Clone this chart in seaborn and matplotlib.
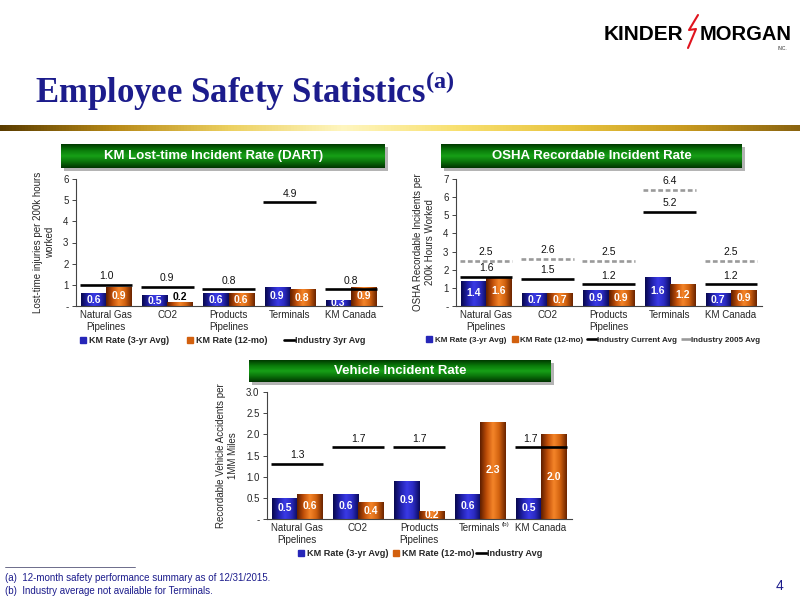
import numpy as np
import pandas as pd
import matplotlib
matplotlib.use("Agg")
import matplotlib.pyplot as plt
from matplotlib.colors import LinearSegmentedColormap
from matplotlib.lines import Line2D
import seaborn as sns

# values
categories = ['Natural Gas\nPipelines', 'CO2', 'Products\nPipelines', 'Terminals', 'KM Canada']
series_names = ['KM Rate (3-yr Avg)', 'KM Rate (12-mo)']

dart_3yr = [0.6, 0.5, 0.6, 0.9, 0.3]
dart_12mo = [0.9, 0.2, 0.6, 0.8, 0.9]
dart_industry = [1.0, 0.9, 0.8, 4.9, 0.8]

osha_3yr = [1.4, 0.7, 0.9, 1.6, 0.7]
osha_12mo = [1.6, 0.7, 0.9, 1.2, 0.9]
osha_industry = [1.6, 1.5, 1.2, 5.2, 1.2]
osha_industry_2005 = [2.5, 2.6, 2.5, 6.4, 2.5]

veh_3yr = [0.5, 0.6, 0.9, 0.6, 0.5]
veh_12mo = [0.6, 0.4, 0.2, 2.3, 2.0]
veh_industry = [1.3, 1.7, 1.7, None, 1.7]  # no industry avg for Terminals

BLUE = '#2626b8'
ORANGE = '#d2600e'
NAVY = '#1c1c8c'
blue_cmap = LinearSegmentedColormap.from_list('b', ['#08084e', '#2020a8', '#3a3ae6', '#2a2ac0', '#0a0a5a'])
orange_cmap = LinearSegmentedColormap.from_list('o', ['#5e1e00', '#c04e08', '#f5862a', '#d0600e', '#6a2400'])
green_cmap = LinearSegmentedColormap.from_list('g', ['#003a00', '#0a7a0a', '#17a017', '#0a700a', '#003400'])
gold_cmap = LinearSegmentedColormap.from_list('y', ['#5a3c00', '#b88a18', '#ecd060', '#fff6c0',
                                                    '#f8e070', '#e8c440', '#c89a20', '#8a6410'])

sns.set_theme(style='white')
plt.rcParams['font.family'] = ['Liberation Sans', 'DejaVu Sans']

fig = plt.figure(figsize=(8, 6), dpi=100)
W, H = 800.0, 600.0


def px_axes(x0, y0, x1, y1):
    # axes from pixel box (top-left origin)
    return fig.add_axes([x0 / W, 1 - y1 / H, (x1 - x0) / W, (y1 - y0) / H])


def header(x0, y0, x1, y1, text, tx=0.5):
    sh = px_axes(x0 + 3, y0 + 3, x1 + 3, y1 + 3)
    sh.set_facecolor('#b4b4b4')
    sh.set_xticks([])
    sh.set_yticks([])
    for s in sh.spines.values():
        s.set_visible(False)
    hx = px_axes(x0, y0, x1, y1)
    grad = np.linspace(0, 1, 64).reshape(-1, 1)
    hx.imshow(grad, cmap=green_cmap, aspect='auto', extent=(0, 1, 0, 1))
    hx.text(tx, 0.5, text, color='white', fontsize=9.5, fontweight='bold', ha='center', va='center')
    hx.axis('off')


def shade_bars(ax, container, cmap):
    grad = np.linspace(0, 1, 64).reshape(1, -1)
    for bar in container:
        x0, y0 = bar.get_x(), bar.get_y()
        im = ax.imshow(grad, cmap=cmap, aspect='auto', interpolation='bicubic',
                       extent=(x0, x0 + bar.get_width(), y0, y0 + bar.get_height()), zorder=2.5)
        im.set_clip_path(bar)


def industry(ax, vals, color='black', ls='-', shift=None):
    shift = shift or {}
    for i, v in enumerate(vals):
        if v is None:
            continue
        ax.hlines(v, i - 0.43, i + 0.43, color=color, lw=1.9, linestyles=ls, zorder=4)
        ax.annotate(f'{v:.1f}', (i, v), xytext=(shift.get(i, 0), 2.5), textcoords='offset points',
                    ha='center', va='bottom', fontsize=7.5, color='#111111', zorder=5)


def panel(ax, v3, v12, ymax, yticks, yticklabels, ylabel):
    df = pd.DataFrame({'segment': categories * 2,
                       'rate': v3 + v12,
                       'series': [series_names[0]] * 5 + [series_names[1]] * 5})
    sns.barplot(data=df, x='segment', y='rate', hue='series', order=categories,
                hue_order=series_names, palette=[BLUE, ORANGE], width=0.82, saturation=1,
                errorbar=None, legend=False, ax=ax, zorder=2)
    for cont, cmap, vals in zip(ax.containers, [blue_cmap, orange_cmap], [v3, v12]):
        shade_bars(ax, cont, cmap)
        for bar, v in zip(cont, vals):
            xc = bar.get_x() + bar.get_width() / 2
            if v / ymax < 0.04:
                ax.text(xc, v, f'{v:.1f}', ha='center', va='bottom', fontsize=7.5,
                        fontweight='bold', color='black', zorder=5)
            else:
                ax.text(xc, v / 2, f'{v:.1f}', ha='center', va='center', fontsize=7.5,
                        fontweight='bold', color='white', zorder=5)
    ax.set_xlim(-0.5, 4.5)
    ax.set_ylim(0, ymax)
    ax.set_yticks(yticks)
    ax.set_yticklabels(yticklabels, fontsize=7)
    ax.set_xticks(range(5))
    ax.set_xticklabels(categories, fontsize=7)
    ax.set_xticks(np.arange(-0.5, 5, 1), minor=True)
    ax.tick_params(axis='x', which='major', length=0, pad=3)
    ax.tick_params(axis='x', which='minor', length=3, width=0.7, direction='out', color='#444444')
    ax.tick_params(axis='y', length=3, width=0.7, direction='out', color='#444444', pad=2, left=True)
    ax.set_xlabel('')
    ax.set_ylabel(ylabel, fontsize=7, labelpad=6)
    sns.despine(ax=ax)
    for s in ('left', 'bottom'):
        ax.spines[s].set_color('#444444')
        ax.spines[s].set_linewidth(0.8)
    ax.set_facecolor('white')


def legend(ax, extra, size, colsp, x=0.5, y=-0.27):
    handles = [Line2D([], [], marker='s', ls='none', ms=4.5, mfc=BLUE, mec=BLUE),
               Line2D([], [], marker='s', ls='none', ms=4.5, mfc=ORANGE, mec=ORANGE)]
    labels = list(series_names)
    for lab, color, ls in extra:
        handles.append(Line2D([], [], color=color, lw=1.9, ls=ls))
        labels.append(lab)
    ax.legend(handles, labels, loc='center', bbox_to_anchor=(x, y), ncol=len(handles),
              frameon=False, handlelength=1.2, handletextpad=0.05, columnspacing=colsp,
              borderpad=0, prop={'size': size, 'weight': 'bold'})


# header / logo
fig.text(604 / W, 1 - 40 / H, 'KINDER', fontsize=15, fontweight='bold', color='black')
fig.text(700 / W, 1 - 40 / H, 'MORGAN', fontsize=14.5, fontweight='bold', color='black')
fig.text(778 / W, 1 - 50 / H, 'INC.', fontsize=3.5, color='#333333')
bolt_x = np.array([698, 689, 696, 688]) / W
bolt_y = 1 - np.array([15, 30, 29, 48]) / H
fig.add_artist(Line2D(bolt_x, bolt_y, color='#e0141e', lw=1.5))

fig.text(35 / W, 1 - 103 / H, 'Employee Safety Statistics$^{\\mathregular{(a)}}$', fontsize=25,
         fontweight='bold', color=NAVY, family='Liberation Serif')

gold = px_axes(0, 125, 800, 131)
gold.imshow(np.linspace(0, 1, 256).reshape(1, -1), cmap=gold_cmap, aspect='auto', extent=(0, 1, 0, 1))
gold.axis('off')

# chart headers
header(61, 144, 385, 168, 'KM Lost-time Incident Rate (DART)', tx=0.47)
header(441, 144, 742, 168, 'OSHA Recordable Incident Rate')
header(249, 360, 551, 382, 'Vehicle Incident Rate')

# DART
ax1 = px_axes(75.5, 179, 381.5, 306)
panel(ax1, dart_3yr, dart_12mo, 6, range(7), ['-', '1', '2', '3', '4', '5', '6'],
      'Lost-time injuries per 200k hours\nworked')
industry(ax1, dart_industry)
legend(ax1, [('Industry 3yr Avg', 'black', '-')], size=6.45, colsp=1.8, x=0.477)

# OSHA
ax2 = px_axes(455.5, 179, 761.5, 306)
panel(ax2, osha_3yr, osha_12mo, 7, range(8), ['-', '1', '2', '3', '4', '5', '6', '7'],
      'OSHA Recordable Incidents per\n200k Hours Worked')
industry(ax2, osha_industry)
industry(ax2, osha_industry_2005, color='#9a9a9a', ls=(0, (1.8, 1.0)))
legend(ax2, [('Industry Current Avg', 'black', '-'), ('Industry 2005 Avg', '#9a9a9a', '--')],
       size=5.8, colsp=0.5, x=0.448)

# Vehicle
ax3 = px_axes(266.5, 392, 571.5, 519)
panel(ax3, veh_3yr, veh_12mo, 3, np.arange(0, 3.01, 0.5),
      ['-', '0.5', '1.0', '1.5', '2.0', '2.5', '3.0'],
      'Recordable Vehicle Accidents per\n1MM Miles')
industry(ax3, veh_industry, shift={4: -7.5})
legend(ax3, [('Industry Avg', 'black', '-')], size=6.6, colsp=0.2, x=0.5)
# footnote marker on the Terminals tick label
ax3.annotate('(b)', (3, 0), xytext=(15.5, -3.8), textcoords='offset points',
             fontsize=4.5, ha='left', va='center', color='#222222', annotation_clip=False)

# footnotes
fig.add_artist(Line2D([5 / W, 135 / W], [1 - 567 / H] * 2, color='#555577', lw=0.6))
fig.text(5 / W, 1 - 581 / H, '(a)  12-month safety performance summary as of 12/31/2015.', fontsize=7, color=NAVY)
fig.text(5 / W, 1 - 594 / H, '(b)  Industry average not available for Terminals.', fontsize=7, color=NAVY)
fig.text(776 / W, 1 - 590 / H, '4', fontsize=10, color=NAVY)

fig.savefig('out.png', dpi=100, facecolor='white')
